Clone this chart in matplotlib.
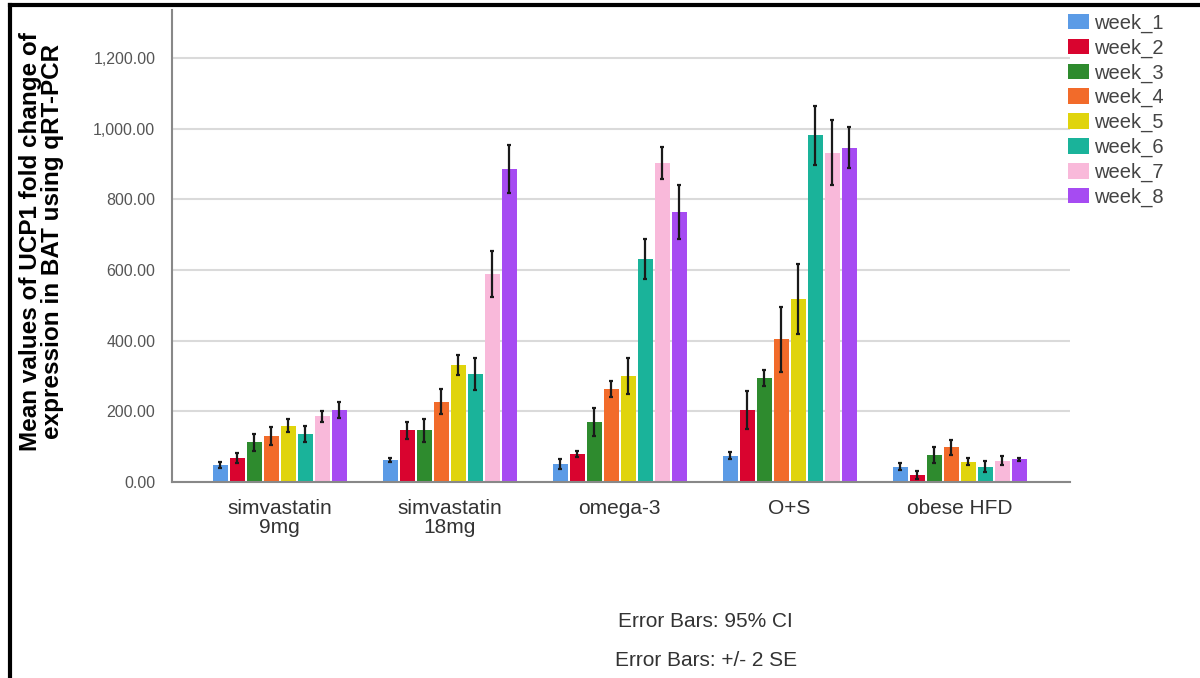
import numpy as np
import matplotlib
matplotlib.use("Agg")
import matplotlib.pyplot as plt
from matplotlib.lines import Line2D
from matplotlib.ticker import FuncFormatter

plt.rcParams['font.family'] = ['Liberation Sans', 'DejaVu Sans']

groups = ['simvastatin\n9mg', 'simvastatin\n18mg', 'omega-3', 'O+S', 'obese HFD']
weeks = ['week_1', 'week_2', 'week_3', 'week_4', 'week_5', 'week_6', 'week_7', 'week_8']
colors = ['#5b9be6', '#d9042f', '#2e8b2e', '#f26b2a', '#e0d40c', '#1ab39a', '#f9b9da', '#a64bf2']

# mean values per week, one entry per group
week_1 = [48, 62, 51, 74, 44]
week_2 = [67, 146, 80, 205, 20]
week_3 = [113, 146, 170, 295, 77]
week_4 = [131, 228, 264, 404, 98]
week_5 = [160, 331, 301, 517, 58]
week_6 = [136, 307, 631, 982, 44]
week_7 = [186, 589, 904, 933, 61]
week_8 = [203, 887, 764, 946, 64]

# half-widths of the error bars
err_1 = [8, 6, 15, 10, 11]
err_2 = [14, 24, 8, 54, 11]
err_3 = [24, 32, 40, 23, 22]
err_4 = [25, 35, 23, 93, 21]
err_5 = [19, 28, 51, 99, 9]
err_6 = [23, 45, 57, 84, 16]
err_7 = [15, 66, 46, 91, 14]
err_8 = [23, 68, 77, 58, 5]

means = [week_1, week_2, week_3, week_4, week_5, week_6, week_7, week_8]
errs = [err_1, err_2, err_3, err_4, err_5, err_6, err_7, err_8]

fig = plt.figure(figsize=(12, 6.78), dpi=100)
ax = fig.add_axes([0.1433, 0.289, 0.7484, 0.696])

x = np.arange(len(groups))
bw = 0.1
for i, (m, e) in enumerate(zip(means, errs)):
    pos = x + (i - 3.5) * bw
    ax.bar(pos, m, width=bw * 0.88, color=colors[i], label=weeks[i], zorder=2)
    ax.errorbar(pos, m, yerr=e, fmt='none', ecolor='#1a1a1a', elinewidth=1.6,
                capsize=1.5, capthick=1.6, zorder=3)

ax.set_xlim(-0.635, 4.65)
ax.set_ylim(0, 1336)
ax.set_yticks(np.arange(0, 1201, 200))
ax.yaxis.set_major_formatter(FuncFormatter(lambda v, p: f'{v:,.2f}'))
ax.grid(axis='y', color='#dadada', linewidth=1.5, zorder=0)
ax.set_axisbelow(True)

ax.set_xticks(x)
ax.set_xticklabels(groups, fontsize=15, color='#333333', linespacing=1.0)
ax.tick_params(axis='both', length=0)
ax.tick_params(axis='y', labelsize=11.5, colors='#555555', pad=12)
ax.tick_params(axis='x', pad=12)

for s in ['top', 'right']:
    ax.spines[s].set_visible(False)
ax.spines['left'].set_color('#888888')
ax.spines['bottom'].set_color('#888888')
ax.spines['left'].set_linewidth(1.5)
ax.spines['bottom'].set_linewidth(1.5)

ax.set_ylabel('Mean values of UCP1 fold change of\nexpression in BAT using qRT-PCR',
              fontsize=17.5, fontweight='bold', color='black', linespacing=0.95)
ax.yaxis.set_label_coords(-0.12, 0.51)

ax.legend(loc='upper left', bbox_to_anchor=(0.989, 1.01), frameon=False, fontsize=14.5,
          handlelength=1.05, handleheight=0.8, handletextpad=0.25, labelspacing=0.28,
          labelcolor='#444444', borderaxespad=0)

fig.text(0.588, 0.083, 'Error Bars: 95% CI', ha='center', va='center', fontsize=15, color='#333333')
fig.text(0.588, 0.026, 'Error Bars: +/- 2 SE', ha='center', va='center', fontsize=15, color='#333333')

# black frame on left and top of the picture
fig.add_artist(Line2D([0.0085, 0.0085], [0, 0.993], color='black', linewidth=3))
fig.add_artist(Line2D([0.0085, 1], [0.993, 0.993], color='black', linewidth=3))

fig.savefig('out.png', dpi=100)
